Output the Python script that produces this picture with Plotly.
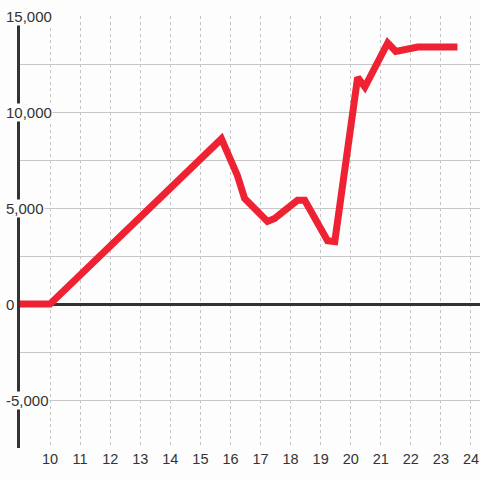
import plotly.graph_objects as go

# Data
x_vals = [9, 10, 15.7, 16.23, 16.47, 17.23, 17.47, 18.23, 18.47, 19.23, 19.47,
          20.23, 20.47, 21.23, 21.5, 22.23, 23.55]
y_vals = [0, 0, 8600, 6700, 5500, 4300, 4450, 5400, 5400, 3300, 3250,
          11800, 11300, 13600, 13150, 13380, 13380]

x_ticks = list(range(10, 25))
y_label_vals = [15000, 10000, 5000, 0, -5000]
y_label_text = ["15,000", "10,000", "5,000", "0", "-5,000"]

BG = "#fcfdfc"
RED = "#ee2233"
TXT = "#333333"
FONT = "Liberation Sans, Arial, sans-serif"

fig = go.Figure()
fig.add_trace(go.Scatter(
    x=x_vals, y=y_vals, mode="lines",
    line=dict(color=RED, width=7), hoverinfo="skip", showlegend=False,
))

annotations = []
for v, t in zip(y_label_vals, y_label_text):
    annotations.append(dict(
        xref="paper", yref="y", x=0, y=v, xanchor="left", yanchor="middle",
        xshift=-15, text=t, showarrow=False, bgcolor=BG, borderpad=0,
        font=dict(family=FONT, size=15, color=TXT),
    ))

fig.update_layout(
    width=480, height=480,
    margin=dict(l=20, r=0, t=16, b=32),
    paper_bgcolor=BG, plot_bgcolor=BG,
    showlegend=False,
    annotations=annotations,
    xaxis=dict(
        range=[9, 24.3], tickvals=x_ticks, ticks="",
        showgrid=True, gridcolor="#c4c4c4", gridwidth=1, griddash="3px,3px",
        zeroline=False, showline=False,
        tickfont=dict(family=FONT, size=14.5, color=TXT),
    ),
    yaxis=dict(
        range=[-7500, 15000], dtick=2500, tick0=0, showticklabels=False, ticks="",
        showgrid=True, gridcolor="#c8c8c8", gridwidth=1,
        zeroline=True, zerolinecolor="#333333", zerolinewidth=3,
        showline=True, linecolor="#333333", linewidth=3,
    ),
)

fig.write_html(
    "out.html",
    config={"displayModeBar": False, "staticPlot": True},
    post_script="document.body.style.margin='0';document.body.style.padding='0';"
                "document.body.style.overflow='hidden';"
                "document.body.style.background='" + BG + "';",
)
